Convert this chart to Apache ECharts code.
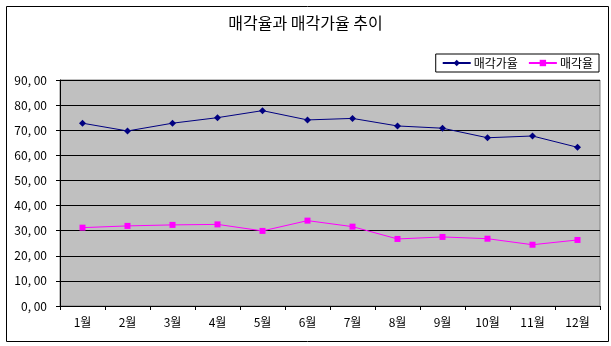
<!DOCTYPE html>
<html><head><meta charset="utf-8">
<script src="https://cdn.jsdelivr.net/npm/echarts@6/dist/echarts.min.js"></script>
<style>html,body{margin:0;padding:0;background:#fff}#c{width:611px;height:346px}</style>
</head><body><div id="c"></div>
<script>
const categories = ['1월','2월','3월','4월','5월','6월','7월','8월','9월','10월','11월','12월'];
const saleValueRate = [72.8, 69.7, 72.8, 75.0, 77.8, 74.1, 74.7, 71.7, 70.8, 67.0, 67.7, 63.2]; // 매각가율
const saleRate = [31.2, 31.9, 32.3, 32.5, 29.9, 34.0, 31.6, 26.7, 27.5, 26.8, 24.4, 26.3]; // 매각율
const titleText = '매각율과 매각가율 추이';
const seriesNames = ['매각가율', '매각율'];

const FONT = '"Noto Sans CJK KR", "Noto Sans", sans-serif';
const chart = echarts.init(document.getElementById('c'), null, {renderer: 'canvas'});
chart.setOption({
  animation: false,
  backgroundColor: '#ffffff',
  textStyle: {fontFamily: FONT},
  title: {
    text: titleText, left: 'center', top: 10,
    textStyle: {fontSize: 16, fontWeight: 'normal', color: '#000', fontFamily: FONT}
  },
  graphic: [{
    type: 'rect', left: 4, top: 4, z: -1,
    shape: {width: 602, height: 335},
    style: {fill: 'none', stroke: '#000', lineWidth: 1}
  }],
  legend: {
    data: seriesNames, right: 12, top: 54,
    orient: 'horizontal',
    itemWidth: 28, itemHeight: 8, itemGap: 10,
    padding: [3, 6, 3, 6],
    borderColor: '#000', borderWidth: 1,
    textStyle: {fontSize: 12, color: '#000', fontFamily: FONT, padding: [0,0,0,-2]}
  },
  grid: {
    left: 60, right: 11, top: 80, bottom: 40,
    show: true, backgroundColor: '#c0c0c0', borderColor: '#808080', borderWidth: 1,
    containLabel: false
  },
  xAxis: {
    type: 'category', data: categories, boundaryGap: true,
    axisLine: {lineStyle: {color: '#000', width: 1}},
    axisTick: {show: true, length: 4, lineStyle: {color: '#000'}},
    axisLabel: {fontSize: 12, color: '#000', margin: 10, fontFamily: FONT}
  },
  yAxis: {
    type: 'value', min: 0, max: 90, interval: 10,
    axisLine: {show: true, lineStyle: {color: '#000', width: 1}},
    axisTick: {show: true, length: 4, lineStyle: {color: '#000'}},
    splitLine: {show: true, lineStyle: {color: '#000', width: 1}},
    axisLabel: {
      fontSize: 12, color: '#000', margin: 13, fontFamily: FONT,
      formatter: v => v.toFixed(2).replace('.', ', ')
    }
  },
  series: [
    {
      name: seriesNames[0], type: 'line', data: saleValueRate,
      symbol: 'diamond', symbolSize: 7,
      lineStyle: {color: '#000080', width: 1},
      itemStyle: {color: '#000080'}
    },
    {
      name: seriesNames[1], type: 'line', data: saleRate,
      symbol: 'rect', symbolSize: 6,
      lineStyle: {color: '#ff00ff', width: 1},
      itemStyle: {color: '#ff00ff'}
    }
  ]
});
</script></body></html>
